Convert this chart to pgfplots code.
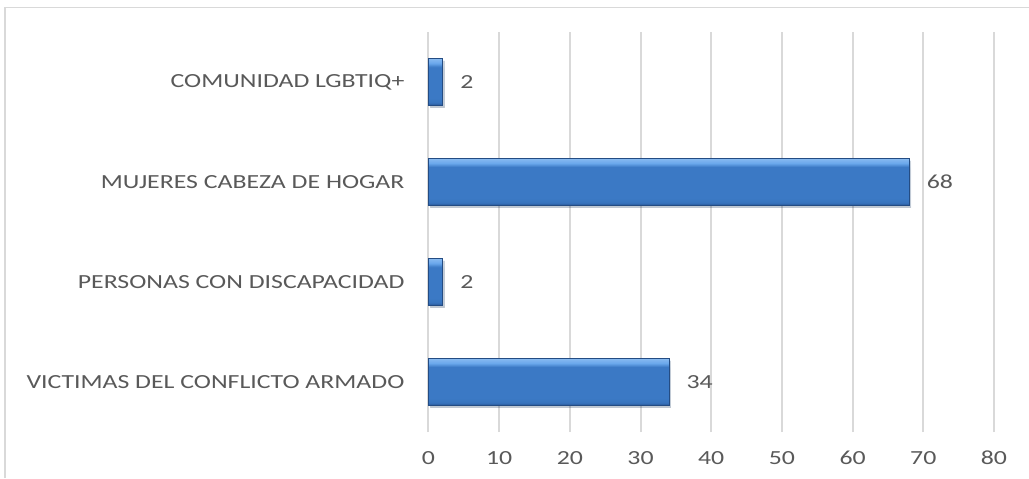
\documentclass[border=0pt]{standalone}
\usepackage{graphicx}
\usepackage{fontspec}
\setmainfont{Carlito}
\usepackage{pgfplots}
\pgfplotsset{compat=1.18}
\definecolor{txt}{HTML}{595959}
\definecolor{grd}{HTML}{D9D9D9}
\definecolor{frm}{HTML}{D9D9D9}
\definecolor{btop}{HTML}{6AA8EC}
\definecolor{bmid}{HTML}{3B79C5}
\definecolor{bbot}{HTML}{285592}
\pgfdeclareverticalshading{barsh}{100bp}{color(0bp)=(bbot); color(25bp)=(bbot); color(28bp)=(bmid!85!bbot); color(33bp)=(bmid); color(66bp)=(bmid); color(70bp)=(btop); color(75bp)=(btop!80!white); color(100bp)=(btop!80!white)}
\newcommand\hs[1]{\scalebox{1.29}[1]{#1}}
\begin{document}
\begin{tikzpicture}
\path[use as bounding box] (-214.25pt,-23pt) rectangle (300.25pt,216pt);
\draw[frm, line width=0.8pt] (-211.75pt,-23pt) -- (-211.75pt,212.35pt) -- (300.25pt,212.35pt);
\begin{axis}[
  at={(0pt,0pt)}, anchor=south west,
  scale only axis, width=282.75pt, height=200pt,
  xmin=0, xmax=80, ymin=-0.5, ymax=3.5,
  xtick={0,10,20,30,40,50,60,70,80},
  xticklabels={\hs{0},\hs{10},\hs{20},\hs{30},\hs{40},\hs{50},\hs{60},\hs{70},\hs{80}},
  ytick={0,1,2,3},
  yticklabels={\hs{VICTIMAS DEL CONFLICTO ARMADO},\hs{PERSONAS CON DISCAPACIDAD},\hs{MUJERES CABEZA DE HOGAR},\hs{COMUNIDAD LGBTIQ+}},
  xticklabel style={text=txt, font=\fontsize{10}{12}\selectfont, yshift=-6pt},
  yticklabel style={text=txt, font=\fontsize{10}{12}\selectfont, xshift=-8.5pt},
  axis line style={draw=none},
  major tick style={draw=none},
  xmajorgrids, grid style={grd, line width=1pt},
  clip=false,
  /pgf/number format/assume math mode=true,
  point meta=x,
  nodes near coords={\hs{\pgfmathprintnumber{\pgfplotspointmeta}}},
  every node near coord/.append style={text=txt, font=\fontsize{10}{12}\selectfont, anchor=west, xshift=5.4pt},
  bbar/.style={xbar, bar width=23.5pt, bar shift=0pt, draw=bbot!90!black, line width=0.3pt, shading=barsh,
    preaction={fill=black, fill opacity=0.15, draw=none, transform canvas={xshift=1pt, yshift=-1.2pt}}},
]
\addplot[bbar] coordinates {(34,0)};
\addplot[bbar] coordinates {(2,1)};
\addplot[bbar] coordinates {(68,2)};
\addplot[bbar] coordinates {(2,3)};
\end{axis}
\end{tikzpicture}
\end{document}
